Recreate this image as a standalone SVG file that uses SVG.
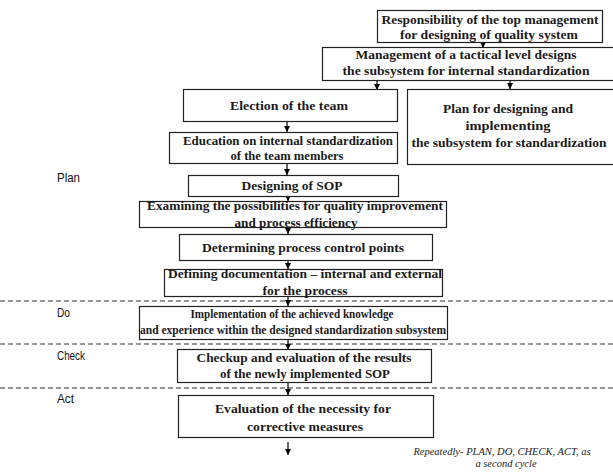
<svg xmlns="http://www.w3.org/2000/svg" width="613" height="472" viewBox="0 0 613 472">
  <defs>
    <marker id="arrow" viewBox="0 0 6 6" refX="6" refY="3" markerWidth="6" markerHeight="6" markerUnits="userSpaceOnUse" orient="auto">
      <path d="M0,0 L6,3 L0,6 z" fill="#000"/>
    </marker>
    <style>
      .box { fill: #fff; stroke: #222; stroke-width: 1.2; }
      .t { font-family: "Liberation Serif", "DejaVu Serif", serif; font-weight: bold; font-size: 13px; fill: #1a1a1a; text-anchor: middle; }
      .phase { font-family: "Liberation Sans Narrow", "Liberation Sans", Arial, sans-serif; font-size: 13px; fill: #111; }
      .note { font-family: "Liberation Serif", serif; font-style: italic; font-size: 10.5px; fill: #1a1a1a; text-anchor: middle; }
      .sep { stroke: #333; stroke-width: 1; stroke-dasharray: 5 3; fill: none; }
      .conn { stroke: #000; stroke-width: 1.2; fill: none; marker-end: url(#arrow); }
    </style>
  </defs>
  <rect width="613" height="472" fill="#fff"/>

  <!-- phase separators -->
  <g id="separators">
    <line class="sep" x1="0" y1="301" x2="613" y2="301"/>
    <line class="sep" x1="0" y1="344" x2="613" y2="344"/>
    <line class="sep" x1="0" y1="388" x2="613" y2="388"/>
  </g>

  <!-- phase labels -->
  <g id="phases">
    <text class="phase" x="57" y="182" textLength="23" lengthAdjust="spacingAndGlyphs">Plan</text>
    <text class="phase" x="57" y="317" textLength="13" lengthAdjust="spacingAndGlyphs">Do</text>
    <text class="phase" x="57" y="360" textLength="28" lengthAdjust="spacingAndGlyphs">Check</text>
    <text class="phase" x="57" y="403" textLength="17" lengthAdjust="spacingAndGlyphs">Act</text>
  </g>

  <g id="connectors">
    <line class="conn" x1="483" y1="42" x2="483" y2="48"/>
    <line class="conn" x1="377" y1="80" x2="377" y2="90"/>
    <line class="conn" x1="510" y1="80" x2="510" y2="89"/>
    <line class="conn" x1="287" y1="122" x2="287" y2="132"/>
    <line class="conn" x1="287" y1="163" x2="287" y2="175"/>
    <line class="conn" x1="288" y1="196" x2="288" y2="201"/>
    <line class="conn" x1="288" y1="227" x2="288" y2="234"/>
    <line class="conn" x1="288" y1="260" x2="288" y2="269"/>
    <line class="conn" x1="288" y1="296" x2="288" y2="306"/>
    <line class="conn" x1="288" y1="340" x2="288" y2="350"/>
    <line class="conn" x1="288" y1="382" x2="288" y2="395"/>
    <line class="conn" x1="288" y1="442" x2="288" y2="455"/>
  </g>

  <g id="top-management">
    <rect class="box" x="377.5" y="10.5" width="225" height="32"/>
    <text class="t" x="490" y="24" textLength="217" lengthAdjust="spacingAndGlyphs">Responsibility of the top management</text>
    <text class="t" x="489" y="39" textLength="178" lengthAdjust="spacingAndGlyphs">for designing of quality system</text>
  </g>

  <g id="tactical-management">
    <rect class="box" x="322.5" y="47.5" width="300" height="33"/>
    <text class="t" x="466" y="59" textLength="221" lengthAdjust="spacingAndGlyphs">Management of a tactical level designs</text>
    <text class="t" x="466" y="75" textLength="247" lengthAdjust="spacingAndGlyphs">the subsystem for internal standardization</text>
  </g>

  <g id="election">
    <rect class="box" x="183.5" y="89.5" width="214" height="32"/>
    <text class="t" x="289" y="110" textLength="118" lengthAdjust="spacingAndGlyphs">Election of the team</text>
  </g>

  <g id="plan-subsystem">
    <rect class="box" x="407.5" y="89.5" width="210" height="75"/>
    <text class="t" x="508" y="113" textLength="130" lengthAdjust="spacingAndGlyphs">Plan for designing and</text>
    <text class="t" x="508" y="130" textLength="85" lengthAdjust="spacingAndGlyphs">implementing</text>
    <text class="t" x="509" y="147" textLength="195" lengthAdjust="spacingAndGlyphs">the subsystem for standardization</text>
  </g>

  <g id="education">
    <rect class="box" x="169.5" y="132.5" width="228" height="31"/>
    <text class="t" x="288" y="145" textLength="210" lengthAdjust="spacingAndGlyphs">Education on internal standardization</text>
    <text class="t" x="287" y="160" textLength="113" lengthAdjust="spacingAndGlyphs">of the team members</text>
  </g>

  <g id="designing-sop">
    <rect class="box" x="188.5" y="175.5" width="210" height="21"/>
    <text class="t" x="292" y="190" textLength="101" lengthAdjust="spacingAndGlyphs">Designing of SOP</text>
  </g>

  <g id="examining">
    <rect class="box" x="139.5" y="201.5" width="307" height="26"/>
    <text class="t" x="295" y="210" textLength="296" lengthAdjust="spacingAndGlyphs">Examining the possibilities for quality improvement</text>
    <text class="t" x="296" y="227" textLength="123" lengthAdjust="spacingAndGlyphs">and process efficiency</text>
  </g>

  <g id="control-points">
    <rect class="box" x="179.5" y="234.5" width="253" height="26"/>
    <text class="t" x="303" y="252" textLength="202" lengthAdjust="spacingAndGlyphs">Determining process control points</text>
  </g>

  <g id="documentation">
    <rect class="box" x="164.5" y="269.5" width="278" height="27"/>
    <text class="t" x="305" y="278" textLength="274" lengthAdjust="spacingAndGlyphs">Defining documentation – internal and external</text>
    <text class="t" x="305" y="295" textLength="85" lengthAdjust="spacingAndGlyphs">for the process</text>
  </g>

  <g id="implementation">
    <rect class="box" x="139.5" y="306.5" width="308" height="33"/>
    <text class="t" x="292" y="318" textLength="203" lengthAdjust="spacingAndGlyphs">Implementation of the achieved knowledge</text>
    <text class="t" x="293" y="334" textLength="306" lengthAdjust="spacingAndGlyphs">and experience within the designed standardization subsystem</text>
  </g>

  <g id="checkup">
    <rect class="box" x="177.5" y="349.5" width="254" height="33"/>
    <text class="t" x="304" y="362" textLength="215" lengthAdjust="spacingAndGlyphs">Checkup and evaluation of the results</text>
    <text class="t" x="305" y="378" textLength="170" lengthAdjust="spacingAndGlyphs">of the newly implemented SOP</text>
  </g>

  <g id="evaluation">
    <rect class="box" x="178.5" y="395.5" width="255" height="42"/>
    <text class="t" x="303" y="413" textLength="176" lengthAdjust="spacingAndGlyphs">Evaluation of the necessity for</text>
    <text class="t" x="305" y="431" textLength="116" lengthAdjust="spacingAndGlyphs">corrective measures</text>
  </g>

  <g id="cycle-note">
    <text class="note" x="502" y="455">Repeatedly- PLAN, DO, CHECK, ACT, as</text>
    <text class="note" x="506" y="467">a second cycle</text>
  </g>
</svg>
